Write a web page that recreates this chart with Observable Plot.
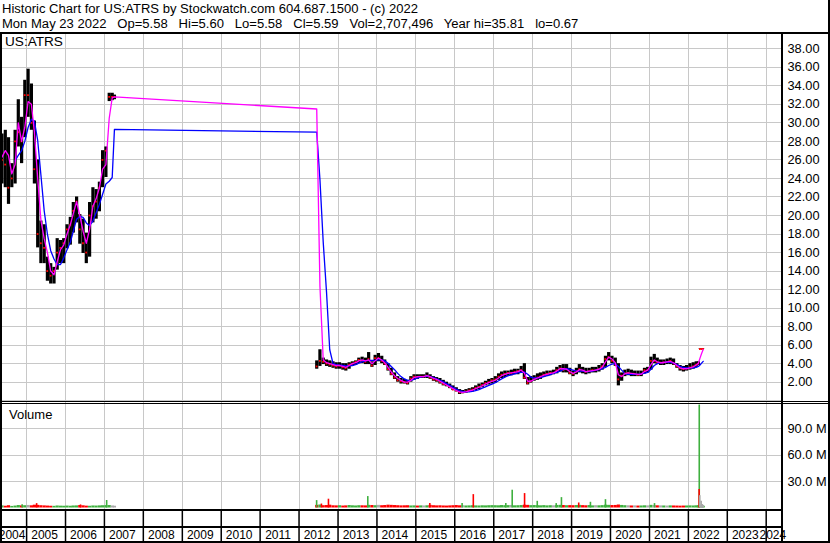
<!DOCTYPE html>
<html><head><meta charset="utf-8">
<script src="https://cdn.jsdelivr.net/npm/d3@7"></script>
<script src="https://cdn.jsdelivr.net/npm/@observablehq/plot@0.6"></script>
<style>
body{margin:0;background:#fff}
#chart{position:relative;width:830px;height:543px;background:#fff;overflow:hidden;font-family:"Liberation Sans",Arial,sans-serif;color:#000}
.abs{position:absolute}
.hdr{position:absolute;left:2px;font-size:13.05px;white-space:pre;line-height:15px}
.ln{position:absolute;background:#000}
.lbl{position:absolute;white-space:pre;line-height:15px}
</style></head><body>
<div id="chart">
  <div class="hdr" id="h1" style="top:0.9px"></div>
  <div class="hdr" id="h2" style="top:15.5px"></div>
  <div id="price" class="abs" style="left:0;top:34px"></div>
  <div id="volume" class="abs" style="left:0;top:402px"></div>
  <div id="xaxis" class="abs" style="left:0;top:509px"></div>
  <div class="lbl" id="sym" style="left:5px;top:34px;font-size:13.6px"></div>
  <div class="lbl" id="vlab" style="left:9px;top:406.5px;font-size:13px"></div>
  <div class="ln" style="left:0;top:32px;width:830px;height:2px"></div>
  <div class="ln" style="left:0;top:32px;width:2px;height:511px"></div>
  <div class="ln" style="left:828px;top:0;width:2px;height:543px"></div>
  <div class="ln" style="left:781px;top:32px;width:2px;height:511px"></div>
  <div class="ln" style="left:0;top:401px;width:830px;height:1px"></div>
  <div class="ln" style="left:0;top:403px;width:830px;height:1px"></div>
  <div class="ln" style="left:0;top:508.5px;width:782px;height:2px"></div>
  <div class="ln" style="left:0;top:526px;width:782px;height:1.5px"></div>
  <div class="ln" style="left:0;top:541px;width:830px;height:2px"></div>
</div>
<script>
// ---- text ----
const title = "Historic Chart for US:ATRS by Stockwatch.com 604.687.1500 - (c) 2022";
const quoteLine = "Mon May 23 2022   Op=5.58   Hi=5.60   Lo=5.58   Cl=5.59   Vol=2,707,496   Year hi=35.81   lo=0.67";
const symbol = "US:ATRS";
const volumeLabel = "Volume";

// ---- axes ----
const priceTicks = [2,4,6,8,10,12,14,16,18,20,22,24,26,28,30,32,34,36,38];
const priceGrid = [0,2,4,6,8,10,12,14,16,18,20,22,24,26,28,30,32,34,36,38];
const volTicks = [30e6, 60e6, 90e6];
const years = [2004,2005,2006,2007,2008,2009,2010,2011,2012,2013,2014,2015,2016,2017,2018,2019,2020,2021,2022,2023,2024];
const yearLabels = ["2004","2005","2006","2007","2008","2009","2010","2011","2012","2013","2014","2015","2016","2017","2018","2019","2020","2021","2022","2023","2024"];

// ---- price data (monthly) ----
const months = [
 "2004-05","2004-06","2004-07","2004-08","2004-09","2004-10","2004-11","2004-12",
 "2005-01","2005-02","2005-03","2005-04","2005-05","2005-06","2005-07","2005-08","2005-09","2005-10","2005-11","2005-12",
 "2006-01","2006-02","2006-03","2006-04","2006-05","2006-06","2006-07","2006-08","2006-09","2006-10","2006-11","2006-12",
 "2007-01","2007-02","2007-03","2007-04-05",
 "2012-06","2012-07","2012-08","2012-09","2012-10","2012-11","2012-12",
 "2013-01","2013-02","2013-03","2013-04","2013-05","2013-06","2013-07","2013-08","2013-09","2013-10","2013-11","2013-12",
 "2014-01","2014-02","2014-03","2014-04","2014-05","2014-06","2014-07","2014-08","2014-09","2014-10","2014-11","2014-12",
 "2015-01","2015-02","2015-03","2015-04","2015-05","2015-06","2015-07","2015-08","2015-09","2015-10","2015-11","2015-12",
 "2016-01","2016-02","2016-03","2016-04","2016-05","2016-06","2016-07","2016-08","2016-09","2016-10","2016-11","2016-12",
 "2017-01","2017-02","2017-03","2017-04","2017-05","2017-06","2017-07","2017-08","2017-09","2017-10","2017-11","2017-12",
 "2018-01","2018-02","2018-03","2018-04","2018-05","2018-06","2018-07","2018-08","2018-09","2018-10","2018-11","2018-12",
 "2019-01","2019-02","2019-03","2019-04","2019-05","2019-06","2019-07","2019-08","2019-09","2019-10","2019-11","2019-12",
 "2020-01","2020-02","2020-03","2020-04","2020-05","2020-06","2020-07","2020-08","2020-09","2020-10","2020-11","2020-12",
 "2021-01","2021-02","2021-03","2021-04","2021-05","2021-06","2021-07","2021-08","2021-09","2021-10","2021-11","2021-12",
 "2022-01","2022-02","2022-03","2022-04-05","2022-04-20","2022-05-05","2022-05-20"
];
const high = [
 28.8,29.2,28.4,25.6,29.2,32.5,30.6,34.6,
 35.8,34.2,30.2,26.0,19.4,19.0,15.5,14.8,14.4,17.5,17.3,17.5,
 19.0,19.8,21.4,22.0,20.1,19.6,18.1,21.4,23.0,22.8,23.6,27.0,
 27.4,33.2,33.2,33.0,
 4.3,5.5,4.6,4.4,4.3,4.2,4.1,
 4.1,4.0,4.0,4.1,4.2,4.3,4.6,4.7,4.6,5.2,4.2,4.9,
 5.1,4.8,4.4,4.0,3.5,3.0,2.6,2.4,2.3,2.2,2.6,2.8,
 2.8,2.8,2.8,3.0,2.8,2.6,2.5,2.4,2.2,2.0,1.8,1.6,
 1.4,1.2,1.1,1.2,1.3,1.4,1.6,1.8,1.9,2.1,2.3,2.4,
 2.6,2.9,3.1,3.2,3.2,3.3,3.4,3.4,3.7,4.0,2.5,2.6,
 2.7,2.9,3.0,3.1,3.2,3.2,3.3,3.6,3.8,3.9,3.9,3.5,
 3.2,3.5,3.9,3.6,3.5,3.5,3.6,3.6,3.8,4.0,4.8,5.2,
 4.8,4.6,4.0,3.0,3.3,3.4,3.3,3.2,3.2,3.2,3.5,3.6,
 4.7,5.0,4.6,4.4,4.4,4.5,4.6,4.5,4.0,3.8,3.7,3.8,
 4.0,4.1,4.2,4.2,5.6,5.6,5.6
];
const low = [
 23.4,23.0,21.2,23.0,23.4,27.4,25.6,28.4,
 30.6,29.2,23.4,16.5,14.8,14.8,12.9,12.6,12.6,14.1,14.8,14.8,
 16.4,16.8,18.1,19.2,16.9,15.9,14.8,15.5,19.2,19.6,20.4,23.0,
 24.1,32.3,32.4,32.5,
 3.4,3.7,3.9,3.7,3.6,3.5,3.4,
 3.4,3.3,3.2,3.4,3.7,3.8,4.0,4.0,3.9,3.9,3.6,3.8,
 4.2,4.0,3.8,3.2,2.7,2.3,2.0,1.8,1.8,1.7,2.0,2.2,
 2.3,2.4,2.4,2.4,2.3,2.1,2.0,1.8,1.6,1.5,1.3,1.1,
 0.95,0.67,0.75,0.8,0.9,0.95,1.1,1.2,1.4,1.6,1.7,1.8,
 1.9,2.2,2.4,2.5,2.6,2.7,2.8,2.8,3.0,2.3,1.7,1.9,
 2.1,2.2,2.3,2.5,2.6,2.7,2.8,2.9,3.1,3.0,3.0,2.8,
 2.6,2.8,3.0,2.9,2.8,2.9,3.0,3.0,3.1,3.3,3.6,4.3,
 4.0,3.7,1.6,2.1,2.6,2.7,2.6,2.6,2.6,2.6,2.9,3.0,
 3.3,4.0,3.9,3.8,3.8,3.9,3.9,3.8,3.5,3.2,3.1,3.2,
 3.3,3.4,3.6,3.8,5.55,5.57,5.58
];
const close = [
 26.0,25.5,23.0,24.0,28.0,29.0,28.0,33.0,
 33.0,30.0,25.0,18.0,17.0,16.5,14.0,13.5,14.0,16.0,16.5,17.0,
 18.5,19.0,20.5,21.5,18.5,17.0,16.0,20.0,21.0,21.5,23.0,26.0,
 27.0,32.8,32.8,32.8,
 3.7,4.3,4.2,4.0,3.9,3.8,3.7,
 3.8,3.6,3.5,3.9,4.0,4.2,4.4,4.3,4.2,4.5,3.8,4.6,
 4.6,4.3,4.0,3.4,2.9,2.5,2.2,2.1,2.0,1.9,2.4,2.6,
 2.5,2.6,2.6,2.7,2.5,2.3,2.2,2.0,1.8,1.7,1.5,1.2,
 1.1,0.9,0.9,1.0,1.1,1.2,1.4,1.5,1.7,1.9,2.0,2.2,
 2.3,2.6,2.8,2.9,3.0,3.0,3.1,3.2,3.3,2.5,1.9,2.1,
 2.4,2.5,2.6,2.8,2.9,3.0,3.0,3.3,3.5,3.3,3.4,3.0,
 2.9,3.2,3.4,3.2,3.1,3.2,3.3,3.3,3.4,3.7,4.5,4.7,
 4.3,3.9,2.3,2.7,3.0,3.0,2.9,2.9,2.8,2.9,3.3,3.3,
 4.3,4.3,4.1,4.1,4.2,4.2,4.3,4.0,3.7,3.5,3.4,3.5,
 3.6,3.7,3.9,4.0,5.58,5.58,5.59
];
// short moving average (magenta)
const fastMA = [
 26.3,27.0,26.5,24.5,25.5,30.0,28.0,29.5,
 32.3,32.0,29.0,24.0,19.5,17.5,16.0,14.0,13.6,15.0,16.3,16.8,
 18.0,19.0,20.2,21.5,20.0,18.3,17.0,18.5,21.0,21.8,23.0,25.0,
 25.5,30.5,32.7,32.8,
 31.5,12.4,4.4,4.1,4.0,3.9,3.8,
 3.8,3.7,3.6,3.8,4.0,4.1,4.3,4.4,4.3,4.4,4.0,4.3,
 4.6,4.4,4.1,3.6,3.1,2.7,2.4,2.2,2.0,2.0,2.2,2.5,
 2.6,2.6,2.6,2.7,2.6,2.4,2.3,2.1,1.9,1.7,1.5,1.3,
 1.1,0.95,0.9,0.95,1.05,1.15,1.3,1.45,1.6,1.8,1.95,2.1,
 2.2,2.45,2.7,2.85,2.95,3.0,3.05,3.15,3.3,3.0,2.1,2.1,
 2.3,2.45,2.6,2.75,2.85,2.95,3.0,3.2,3.45,3.45,3.4,3.15,
 2.95,3.1,3.35,3.3,3.15,3.2,3.25,3.3,3.4,3.6,4.2,4.7,
 4.5,4.1,2.8,2.6,2.9,3.0,2.95,2.9,2.85,2.85,3.15,3.3,
 3.9,4.4,4.2,4.1,4.1,4.2,4.25,4.1,3.8,3.55,3.45,3.45,
 3.55,3.65,3.85,4.05,4.6,5.1,5.53
];
// long moving average (blue)
const slowMA = [
 null,null,null,null,25.9,26.5,27.0,28.0,
 29.5,30.4,30.2,28.1,24.4,20.5,18.0,16.2,15.3,14.7,14.7,15.4,
 16.3,17.1,18.3,19.6,19.9,19.8,19.2,18.9,19.4,20.3,21.2,22.3,
 23.4,23.7,24.1,29.3,
 29.0,23.9,17.1,11.7,5.5,4.0,3.9,
 3.85,3.8,3.75,3.75,3.8,3.9,4.05,4.2,4.3,4.35,4.35,4.35,
 4.4,4.4,4.3,4.05,3.7,3.35,2.95,2.6,2.35,2.2,2.2,2.3,
 2.45,2.55,2.6,2.65,2.6,2.5,2.35,2.2,2.05,1.85,1.65,1.45,
 1.25,1.1,1.0,0.95,0.95,1.0,1.1,1.2,1.35,1.5,1.65,1.8,
 1.95,2.15,2.35,2.55,2.7,2.8,2.9,3.0,3.05,3.1,2.85,2.55,
 2.45,2.45,2.5,2.6,2.7,2.8,2.95,3.05,3.2,3.35,3.45,3.4,
 3.3,3.2,3.2,3.2,3.15,3.15,3.2,3.3,3.35,3.45,3.6,3.8,
 3.95,4.0,3.7,3.3,2.95,2.85,2.85,2.85,2.85,2.9,2.95,3.05,
 3.4,3.8,4.0,4.1,4.15,4.15,4.15,4.05,3.9,3.7,3.6,3.55,
 3.55,3.55,3.6,3.7,3.85,4.05,4.25
];
// typical daily volume (millions)
const volume = [
 2.4,2.0,2.6,1.8,2.2,2.8,2.4,2.6,
 2.9,2.5,3.2,3.0,2.6,2.4,2.2,2.0,1.9,2.3,2.1,2.0,
 2.2,2.0,2.3,2.4,2.8,2.5,2.1,2.0,2.3,2.2,2.4,2.6,
 2.7,2.8,2.3,2.0,
 3.0,3.4,2.6,2.8,3.2,2.5,2.4,
 2.6,2.2,2.4,2.8,2.5,2.3,2.6,2.5,2.4,3.0,2.8,2.6,
 3.0,2.6,2.8,3.2,3.0,2.8,2.6,2.4,2.5,2.6,2.3,2.4,
 2.2,2.4,2.3,2.5,3.0,2.6,2.4,2.5,2.3,2.2,2.4,2.6,
 2.8,2.5,2.6,2.3,2.4,2.6,2.4,2.3,2.5,2.4,2.6,2.7,
 2.6,2.5,2.8,2.6,2.7,2.9,2.5,2.6,2.8,3.2,3.0,2.7,
 2.8,2.6,2.5,2.7,2.4,2.6,2.5,2.9,3.0,2.8,2.6,2.7,
 2.6,2.8,3.0,2.7,2.5,2.8,2.4,2.6,2.5,2.7,3.2,3.0,
 2.8,2.9,3.4,2.9,2.6,2.5,2.3,2.4,2.2,2.3,2.5,2.4,
 3.0,2.8,2.5,2.4,2.3,2.2,2.4,2.3,2.2,2.1,2.2,2.3,
 2.4,2.3,2.5,2.6,2.0,2.0,2.0
];
// notable single-day volumes (millions)
const spikeDates = ["2004-11-20","2005-04-05","2006-05-22","2007-01-22","2012-06-14","2012-07-29","2012-10-03","2013-10-07","2015-05-12","2016-03-10","2016-06-23","2017-04-24","2017-06-23","2017-10-17","2018-02-13","2018-08-10","2018-09-28","2019-03-09","2019-06-27","2019-11-15","2021-02-17","2022-04-13","2022-04-12","2022-04-18","2022-05-01","2022-05-10","2022-05-20"];
const spikeVols = [3.8,5.0,3.5,8.5,8.4,4.5,10.0,13.0,5.0,5.0,15.2,5.0,20.2,16.4,7.6,5.0,11.8,5.7,6.5,9.5,5.0,117,21,14,7.6,4.0,3.0];
const spikeKinds = ["up","down","down","up","up","down","down","up","down","up","down","up","up","down","up","up","up","down","up","up","up","up","down","flat","flat","flat","flat"];

// ---- build ----
const parse = s => new Date((s.length === 7 ? s + "-15" : s) + "T00:00:00Z");
const records = months.map((m, i) => ({
  date: parse(m), hi: high[i], lo: low[i], cl: close[i],
  fast: fastMA[i], slow: slowMA[i], vol: volume[i] * 1e6,
  kind: i === 0 ? "up" : (close[i] > close[i-1] ? "up" : (close[i] < close[i-1] ? "down" : "flat"))
}));
const spikes = spikeDates.map((d, i) => ({date: parse(d), vol: spikeVols[i] * 1e6, kind: spikeKinds[i]}));
const volColor = {up: "#3fb03f", down: "#ff0000", flat: "#a8a8a8"};
const yearDates = years.slice(1).map(y => new Date(Date.UTC(y, 0, 1)));
const xDomain = [new Date(Date.UTC(2004, 4, 1)), new Date(Date.UTC(2024, 5, 2))];
const xScale = {type: "utc", domain: xDomain, range: [0, 782], axis: null};
const font = '"Liberation Sans", Arial, sans-serif';
const grid = "#c8c8c8";

document.getElementById("h1").textContent = title;
document.getElementById("h2").textContent = quoteLine;
document.getElementById("sym").textContent = symbol;
document.getElementById("vlab").textContent = volumeLabel;

const price = Plot.plot({
  width: 830, height: 367,
  marginTop: 0, marginBottom: 0, marginLeft: 0, marginRight: 48,
  style: {fontFamily: font, fontSize: "12.8px", color: "#000", background: "transparent", overflow: "visible"},
  x: xScale,
  y: {domain: [0, 38], range: [366.2, 14.3], axis: "right", ticks: priceTicks,
      tickFormat: d => d.toFixed(2), tickSize: 0, tickPadding: 5, label: null},
  marks: [
    Plot.ruleY(priceGrid, {stroke: grid, shapeRendering: "crispEdges"}),
    Plot.ruleX(yearDates, {stroke: grid, shapeRendering: "crispEdges"}),
    Plot.ruleX(records, {x: "date", y1: "lo", y2: "hi", stroke: "#000", strokeWidth: 3.2}),
    Plot.ruleY(records, {y: "cl", x1: d => d3.utcDay.offset(d.date, -5), x2: d => d3.utcDay.offset(d.date, 12), stroke: "#ff0000", strokeWidth: 1.8}),
    Plot.line(records, {x: "date", y: "slow", stroke: "#0000ff", strokeWidth: 1.3}),
    Plot.line(records, {x: "date", y: "fast", stroke: "#ff00ff", strokeWidth: 1.3})
  ]
});
document.getElementById("price").appendChild(price);

const vol = Plot.plot({
  width: 830, height: 107,
  marginTop: 0, marginBottom: 0, marginLeft: 0, marginRight: 48,
  style: {fontFamily: font, fontSize: "12.8px", color: "#000", background: "transparent", overflow: "visible"},
  x: xScale,
  y: {domain: [0, 90e6], range: [105.5, 26.3], axis: "right", ticks: volTicks,
      tickFormat: d => (d / 1e6).toFixed(1) + " M", tickSize: 0, tickPadding: 5, label: null},
  marks: [
    Plot.ruleY(volTicks, {stroke: grid, shapeRendering: "crispEdges"}),
    Plot.ruleX(yearDates, {stroke: grid, shapeRendering: "crispEdges"}),
    Plot.ruleX(records, {x: "date", y1: 0, y2: "vol", stroke: d => volColor[d.kind], strokeWidth: 3.2}),
    Plot.ruleX(spikes, {x: "date", y1: 0, y2: "vol", stroke: d => volColor[d.kind], strokeWidth: 1.6})
  ]
});
document.getElementById("volume").appendChild(vol);

const labelData = yearLabels.map((t, i) => {
  const a = Math.max(Date.UTC(years[i], 0, 1), +xDomain[0]);
  const b = Math.min(Date.UTC(years[i] + 1, 0, 1), +xDomain[1]);
  return {label: t, mid: new Date((a + b) / 2)};
});
const xa = Plot.plot({
  width: 830, height: 34,
  marginTop: 0, marginBottom: 0, marginLeft: 0, marginRight: 48,
  style: {fontFamily: font, fontSize: "12px", color: "#000", background: "transparent", overflow: "visible"},
  x: xScale,
  marks: [
    Plot.ruleX(yearDates, {stroke: "#000", strokeWidth: 1.5}),
    Plot.text(labelData, {x: "mid", text: "label", frameAnchor: "top", lineAnchor: "middle", dy: 25.8, dx: -1.5, fill: "#000", fontSize: 12})
  ]
});
document.getElementById("xaxis").appendChild(xa);
</script>
</body></html>
